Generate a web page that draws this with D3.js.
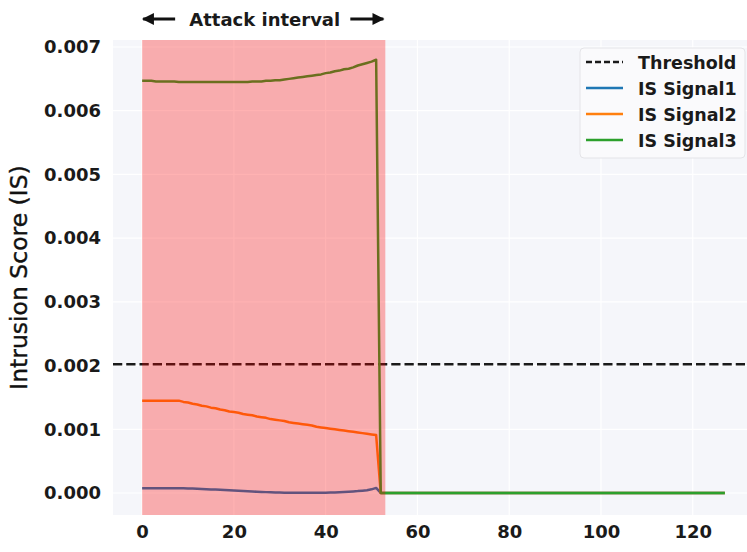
<!DOCTYPE html>
<html>
<head>
<meta charset="utf-8">
<script src="https://cdn.jsdelivr.net/npm/d3@7"></script>
<style>
    body { margin: 0; background: #fff; }
    text { font-family: "DejaVu Sans", sans-serif; }
</style>
</head>
<body>
<svg id="chart"></svg>
<script>
// values during the attack window (index 0..51)
const attackSignal1 = [0.000075, 0.000075, 0.000075, 0.000075, 0.000075, 0.000075, 0.000075, 0.000075, 0.000075,
    0.000074, 0.000072, 0.00007, 0.000067, 0.000064, 0.000061, 0.000057, 0.000054, 0.00005, 0.000046, 0.000042,
    0.000038, 0.000034, 0.00003, 0.000027, 0.000023, 0.00002, 0.000017, 0.000014, 0.000012, 0.00001,
    0.000008, 0.000006, 0.000005, 0.000004, 0.000003, 0.000003, 0.000003, 0.000003, 0.000004, 0.000005,
    0.000006, 0.000008, 0.00001, 0.000013, 0.000016, 0.00002, 0.000025, 0.00003, 0.000037, 0.000045,
    0.000058, 0.00008];
const attackSignal2 = [0.00145, 0.00145, 0.00145, 0.00145, 0.00145, 0.00145, 0.00145, 0.00145, 0.00145,
    0.00143, 0.00142, 0.00140, 0.00139, 0.00137, 0.00136, 0.00134, 0.00133, 0.00131, 0.00130, 0.00128,
    0.00127, 0.00126, 0.00124, 0.00123, 0.00122, 0.00120, 0.00119, 0.00118, 0.00116, 0.00115,
    0.00114, 0.00113, 0.00111, 0.00110, 0.00109, 0.00108, 0.00107, 0.00106, 0.00104, 0.00103,
    0.00102, 0.00101, 0.00100, 0.00099, 0.00098, 0.00097, 0.00096, 0.00095, 0.00094, 0.00093,
    0.00092, 0.00091];
const attackSignal3 = [0.00647, 0.00647, 0.00647, 0.00646, 0.00646, 0.00646, 0.00646, 0.00646, 0.00645, 0.00645,
    0.00645, 0.00645, 0.00645, 0.00645, 0.00645, 0.00645, 0.00645, 0.00645, 0.00645, 0.00645,
    0.00645, 0.00645, 0.00645, 0.00645, 0.00646, 0.00646, 0.00646, 0.00647, 0.00647, 0.00648,
    0.00648, 0.00649, 0.00650, 0.00651, 0.00652, 0.00653, 0.00654, 0.00655, 0.00656, 0.00657,
    0.00659, 0.00660, 0.00662, 0.00663, 0.00665, 0.00666, 0.00668, 0.00671, 0.00673, 0.00675,
    0.00677, 0.00680];
// after the attack every score sits at zero (index 52..127)
const idleScores = [0, 0, 0, 0, 0, 0, 0, 0, 0, 0, 0, 0, 0, 0, 0, 0, 0, 0, 0, 0,
    0, 0, 0, 0, 0, 0, 0, 0, 0, 0, 0, 0, 0, 0, 0, 0, 0, 0, 0, 0,
    0, 0, 0, 0, 0, 0, 0, 0, 0, 0, 0, 0, 0, 0, 0, 0, 0, 0, 0, 0,
    0, 0, 0, 0, 0, 0, 0, 0, 0, 0, 0, 0, 0, 0, 0, 0];

const threshold = 0.00202;
const attackSpan = [0, 53];
const seriesNames = ["IS Signal1", "IS Signal2", "IS Signal3"];
const seriesColors = ["#1f77b4", "#ff7f0e", "#2ca02c"];
const xTicks = [0, 20, 40, 60, 80, 100, 120];
const yTicks = [0, 0.001, 0.002, 0.003, 0.004, 0.005, 0.006, 0.007];

const series = [attackSignal1, attackSignal2, attackSignal3].map(function(a, i) {
    return {name: seriesNames[i], colour: seriesColors[i], values: a.concat(idleScores)};
});

const W = 747, H = 552;
const plot = {left: 113, right: 754, top: 40, bottom: 515};
const tickFont = "bold 18px 'DejaVu Sans'";

let svg = d3.select("#chart").attr("width", W).attr("height", H);

let x = d3.scaleLinear().domain([-6.35, 133.35]).range([plot.left, plot.right]);
let y = d3.scaleLinear().domain([-0.000345, 0.00711]).range([plot.bottom, plot.top]);

function drawBackground() {
    svg.append("rect")
        .attr("x", plot.left).attr("y", plot.top)
        .attr("width", plot.right - plot.left).attr("height", plot.bottom - plot.top)
        .attr("fill", "#f5f6fa");

    svg.append("g").selectAll("line").data(xTicks).enter().append("line")
        .attr("x1", d => x(d)).attr("x2", d => x(d))
        .attr("y1", plot.top).attr("y2", plot.bottom)
        .attr("stroke", "#fff").attr("stroke-width", 1.2);
    svg.append("g").selectAll("line").data(yTicks).enter().append("line")
        .attr("y1", d => y(d)).attr("y2", d => y(d))
        .attr("x1", plot.left).attr("x2", plot.right)
        .attr("stroke", "#fff").attr("stroke-width", 1.2);
}

function drawAxes() {
    let xAxis = d3.axisBottom(x).tickValues(xTicks).tickSize(0).tickPadding(10);
    let yAxis = d3.axisLeft(y).tickValues(yTicks).tickFormat(d3.format(".3f")).tickSize(0).tickPadding(12);

    let gx = svg.append("g").attr("transform", "translate(0," + plot.bottom + ")").call(xAxis);
    let gy = svg.append("g").attr("transform", "translate(" + plot.left + ",0)").call(yAxis);
    [gx, gy].forEach(function(g) {
        g.select(".domain").remove();
        g.selectAll("text").style("font", tickFont).attr("fill", "#1a1a1a");
    });

    svg.append("text")
        .attr("transform", "translate(27," + ((plot.top + plot.bottom) / 2) + ") rotate(-90)")
        .attr("text-anchor", "middle")
        .style("font-size", "23.5px")
        .attr("fill", "#111")
        .attr("stroke", "#111").attr("stroke-width", 0.4)
        .text("Intrusion Score (IS)");
}

function drawLines() {
    svg.append("line")
        .attr("x1", plot.left).attr("x2", plot.right)
        .attr("y1", y(threshold)).attr("y2", y(threshold))
        .attr("stroke", "#1a1a1a").attr("stroke-width", 2.5)
        .attr("stroke-dasharray", "9.25,4");

    let line = d3.line()
        .x((d, i) => x(i))
        .y(d => y(d));

    svg.append("g").selectAll("path").data(series).enter().append("path")
        .attr("d", d => line(d.values))
        .attr("fill", "none")
        .attr("stroke", d => d.colour)
        .attr("stroke-width", 2.5)
        .attr("stroke-linejoin", "round");

    // shaded attack window sits on top of the lines, like axvspan
    svg.append("rect")
        .attr("x", x(attackSpan[0])).attr("y", plot.top)
        .attr("width", x(attackSpan[1]) - x(attackSpan[0]))
        .attr("height", plot.bottom - plot.top)
        .attr("fill", "red").attr("opacity", 0.3);
}

function drawAnnotation() {
    let defs = svg.append("defs");
    defs.append("marker")
        .attr("id", "head")
        .attr("viewBox", "0 0 10 10")
        .attr("refX", 9).attr("refY", 5)
        .attr("markerWidth", 4.4).attr("markerHeight", 4)
        .attr("markerUnits", "strokeWidth")
        .attr("orient", "auto")
        .append("path").attr("d", "M0,0 L10,5 L0,10 z").attr("fill", "#111");

    let ay = 19;
    let left = x(attackSpan[0]), right = x(attackSpan[1]);
    svg.append("line")
        .attr("x1", left + 33).attr("x2", left + 1).attr("y1", ay).attr("y2", ay)
        .attr("stroke", "#111").attr("stroke-width", 3).attr("marker-end", "url(#head)");
    svg.append("line")
        .attr("x1", right - 35).attr("x2", right - 2).attr("y1", ay).attr("y2", ay)
        .attr("stroke", "#111").attr("stroke-width", 3).attr("marker-end", "url(#head)");

    svg.append("text")
        .attr("x", (left + right) / 2 + 1).attr("y", ay + 6.5)
        .attr("text-anchor", "middle")
        .style("font", tickFont)
        .attr("fill", "#1a1a1a")
        .text("Attack interval");
}

function drawLegend() {
    let items = [{name: "Threshold", colour: "#1a1a1a", dash: "6,3"}].concat(series);
    let lg = svg.append("g").attr("transform", "translate(580,48)");
    lg.append("rect")
        .attr("width", 165).attr("height", 110)
        .attr("rx", 4)
        .attr("fill", "#fafafc").attr("stroke", "#e4e4e8");

    let row = lg.selectAll(".lineLegend").data(items).enter().append("g")
        .attr("class", "lineLegend")
        .attr("transform", (d, i) => "translate(0," + (14 + i * 26) + ")");
    row.append("line")
        .attr("x1", 6).attr("x2", 43)
        .attr("stroke", d => d.colour).attr("stroke-width", 2.5)
        .attr("stroke-dasharray", d => d.dash || null);
    row.append("text")
        .attr("x", 58).attr("y", 6.5)
        .style("font", tickFont)
        .style("font-size", "17.5px")
        .attr("fill", "#1a1a1a")
        .text(d => d.name);
}

drawBackground();
drawLines();
drawAxes();
drawAnnotation();
drawLegend();
</script>
</body>
</html>
